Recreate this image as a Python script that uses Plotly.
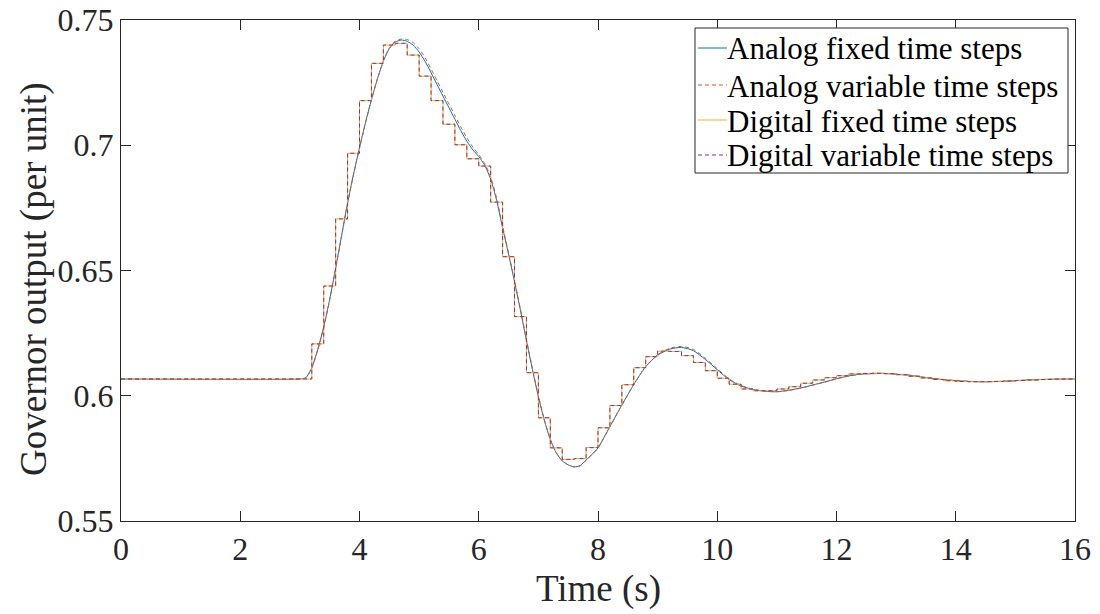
import plotly.graph_objects as go

# ---- Data ----
analog_t = [0, 3.0, 3.1, 3.2, 3.3, 3.4, 3.5, 3.6, 3.7, 3.8, 3.9, 4.0, 4.1, 4.2, 4.3, 4.4,
            4.5, 4.6, 4.7, 4.8, 4.9, 5.0, 5.1, 5.2, 5.3, 5.4, 5.5, 5.6, 5.7, 5.8, 5.9,
            6.0, 6.1, 6.2, 6.3, 6.4, 6.5, 6.6, 6.7, 6.8, 6.9, 7.0, 7.1, 7.2, 7.3, 7.4,
            7.5, 7.6, 7.7, 7.8, 7.9, 8.0, 8.2, 8.4, 8.6, 8.8, 9.0, 9.2, 9.4, 9.6, 9.8,
            10.0, 10.2, 10.4, 10.6, 10.8, 11.0, 11.2, 11.4, 11.6, 11.8, 12.0, 12.2, 12.4,
            12.8, 13.2, 13.6, 14.0, 14.4, 14.8, 15.2, 15.6, 16.0]

analog_fixed = [0.6067, 0.6067, 0.6072, 0.6112, 0.6185, 0.6275, 0.6385, 0.6510, 0.6640,
                0.6770, 0.6885, 0.6990, 0.7090, 0.7182, 0.7265, 0.7336, 0.7386, 0.7412,
                0.7420, 0.7415, 0.7400, 0.7372, 0.7335, 0.7290, 0.7243, 0.7196, 0.7150,
                0.7104, 0.7058, 0.7016, 0.6982, 0.6955, 0.6920, 0.6865, 0.6780, 0.6670,
                0.6565, 0.6455, 0.6340, 0.6220, 0.6105, 0.5996, 0.5902, 0.5825, 0.5772,
                0.5740, 0.5724, 0.5716, 0.5721, 0.5743, 0.5766, 0.5792, 0.5877, 0.5963,
                0.6045, 0.6116, 0.6162, 0.6186, 0.6193, 0.6180, 0.6145, 0.6104, 0.6064,
                0.6039, 0.6025, 0.6018, 0.6016, 0.6022, 0.6031, 0.6043, 0.6055, 0.6068,
                0.6079, 0.6086, 0.6089, 0.6082, 0.6069, 0.6060, 0.6056, 0.6058, 0.6063,
                0.6066, 0.6067]

analog_variable = [0.6067, 0.6067, 0.6071, 0.6110, 0.6182, 0.6272, 0.6382, 0.6507, 0.6637,
                   0.6768, 0.6883, 0.6988, 0.7088, 0.7180, 0.7264, 0.7336, 0.7388, 0.7416,
                   0.7424, 0.7422, 0.7410, 0.7385, 0.7349, 0.7305, 0.7258, 0.7211, 0.7165,
                   0.7119, 0.7073, 0.7030, 0.6993, 0.6963, 0.6928, 0.6873, 0.6788, 0.6678,
                   0.6570, 0.6460, 0.6345, 0.6225, 0.6110, 0.6000, 0.5905, 0.5827, 0.5773,
                   0.5740, 0.5724, 0.5716, 0.5720, 0.5742, 0.5765, 0.5791, 0.5876, 0.5962,
                   0.6045, 0.6117, 0.6164, 0.6189, 0.6197, 0.6185, 0.6150, 0.6108, 0.6067,
                   0.6041, 0.6026, 0.6018, 0.6016, 0.6021, 0.6030, 0.6042, 0.6054, 0.6067,
                   0.6078, 0.6086, 0.6089, 0.6083, 0.6070, 0.6061, 0.6056, 0.6057, 0.6062,
                   0.6066, 0.6067]

digital_t = [0, 3.2, 3.4, 3.6, 3.8, 4.0, 4.2, 4.4, 4.6, 4.8, 5.0, 5.2, 5.4, 5.6, 5.8,
             6.0, 6.2, 6.4, 6.6, 6.8, 7.0, 7.2, 7.4, 7.6, 7.8, 8.0, 8.2, 8.4, 8.6, 8.8,
             9.0, 9.2, 9.4, 9.6, 9.8, 10.0, 10.2, 10.4, 10.6, 10.8, 11.0, 11.2, 11.4,
             11.6, 11.8, 12.0, 12.2, 12.4, 12.6, 12.8, 13.0, 13.2, 13.4, 13.6, 13.8,
             14.0, 14.2, 14.4, 14.6, 14.8, 15.0, 15.2, 15.4, 15.6, 15.8, 16.0]

digital_fixed = [0.6067, 0.6207, 0.6438, 0.6706, 0.6968, 0.7178, 0.7327, 0.7400, 0.7407,
                 0.7360, 0.7276, 0.7178, 0.7084, 0.7002, 0.6946, 0.6917, 0.6773, 0.6555,
                 0.6316, 0.6092, 0.5912, 0.5792, 0.5746, 0.5749, 0.5793, 0.5872, 0.5961,
                 0.6044, 0.6112, 0.6156, 0.6178, 0.6177, 0.6160, 0.6133, 0.6100, 0.6070,
                 0.6046, 0.6027, 0.6020, 0.6020, 0.6027, 0.6036, 0.6050, 0.6063, 0.6072,
                 0.6080, 0.6087, 0.6089, 0.6090, 0.6088, 0.6084, 0.6078, 0.6071, 0.6065,
                 0.6060, 0.6057, 0.6056, 0.6056, 0.6057, 0.6059, 0.6061, 0.6063, 0.6065,
                 0.6066, 0.6067, 0.6067]

digital_variable = [0.6067, 0.6207, 0.6438, 0.6706, 0.6968, 0.7178, 0.7327, 0.7400, 0.7407,
                    0.7360, 0.7276, 0.7178, 0.7084, 0.7002, 0.6946, 0.6917, 0.6773, 0.6555,
                    0.6316, 0.6092, 0.5912, 0.5792, 0.5746, 0.5749, 0.5793, 0.5872, 0.5961,
                    0.6044, 0.6112, 0.6156, 0.6178, 0.6177, 0.6160, 0.6133, 0.6100, 0.6070,
                    0.6046, 0.6027, 0.6020, 0.6020, 0.6027, 0.6036, 0.6050, 0.6063, 0.6072,
                    0.6080, 0.6087, 0.6089, 0.6090, 0.6088, 0.6084, 0.6078, 0.6071, 0.6065,
                    0.6060, 0.6057, 0.6056, 0.6056, 0.6057, 0.6059, 0.6061, 0.6063, 0.6065,
                    0.6066, 0.6067, 0.6067]

series_names = ["Analog fixed time steps", "Analog variable time steps",
                "Digital fixed time steps", "Digital variable time steps"]
series_colors = ["#0072BD", "#D95319", "#EDB120", "#7E2F8E"]
series_dash = ["solid", "4px,3px", "solid", "4px,3px"]

x_ticks = [0, 2, 4, 6, 8, 10, 12, 14, 16]
x_tick_text = ["0", "2", "4", "6", "8", "10", "12", "14", "16"]
y_ticks = [0.55, 0.6, 0.65, 0.7, 0.75]
y_tick_text = ["0.55", "0.6", "0.65", "0.7", "0.75"]
x_title = "Time (s)"
y_title = "Governor output (per unit)"

# ---- Figure ----
FONT = "Liberation Serif, Times New Roman, serif"
AX = "#262626"
W, H = 1100, 614
ML, MR, MT, MB = 121, 25, 20, 93
PW, PH = W - ML - MR, H - MT - MB


def px_to_paper(px, py):
    return (px - ML) / PW, (H - MB - py) / PH


fig = go.Figure()
xs = [analog_t, analog_t, digital_t, digital_t]
ys = [analog_fixed, analog_variable, digital_fixed, digital_variable]
shapes_line = ["spline", "spline", "hv", "hv"]
for i in range(4):
    line = dict(color=series_colors[i], width=1, shape=shapes_line[i], dash=series_dash[i])
    if shapes_line[i] == "spline":
        line["smoothing"] = 0.6
    fig.add_trace(go.Scatter(x=xs[i], y=ys[i], mode="lines", name=series_names[i],
                             line=line, showlegend=False))

axis_common = dict(showline=True, linecolor=AX, linewidth=1, mirror="ticks",
                   ticks="inside", ticklen=10, tickcolor=AX, tickwidth=1,
                   showgrid=False, zeroline=False, automargin=False,
                   tickfont=dict(family=FONT, size=32, color=AX))

fig.update_xaxes(range=[0, 16], tickvals=x_ticks, ticktext=x_tick_text, **axis_common)
fig.update_yaxes(range=[0.55, 0.75], tickvals=y_ticks, ticktext=y_tick_text, **axis_common)

shapes = []
annotations = []

# Axis titles
xt_x, xt_y = px_to_paper(598, 589)
annotations.append(dict(xref="paper", yref="paper", x=xt_x, y=xt_y, xanchor="center",
                        yanchor="middle", text=x_title, showarrow=False,
                        font=dict(family=FONT, size=37, color=AX)))
yt_x, yt_y = px_to_paper(34, 279)
annotations.append(dict(xref="paper", yref="paper", x=yt_x, y=yt_y, xanchor="center",
                        yanchor="middle", text=y_title, showarrow=False, textangle=-90,
                        font=dict(family=FONT, size=37, color=AX)))

# ---- Legend drawn as a box, line samples and text (compact MATLAB-style spacing) ----
bx0, by0 = px_to_paper(695, 28)
bx1, by1 = px_to_paper(1068, 173)
shapes.append(dict(type="rect", xref="paper", yref="paper", x0=bx0, x1=bx1, y0=by1, y1=by0,
                   line=dict(color=AX, width=1), fillcolor="white", layer="above"))
row_y = [48, 85, 120, 155]
for i in range(4):
    lx0, ly = px_to_paper(698, row_y[i])
    lx1, _ = px_to_paper(727, row_y[i])
    shapes.append(dict(type="line", xref="paper", yref="paper", x0=lx0, x1=lx1, y0=ly, y1=ly,
                       line=dict(color=series_colors[i], width=1, dash=series_dash[i]),
                       layer="above"))
    tx, ty = px_to_paper(725, row_y[i] + 1)
    annotations.append(dict(xref="paper", yref="paper", x=tx, y=ty, xanchor="left", yanchor="middle",
                            text=series_names[i], showarrow=False,
                            font=dict(family=FONT, size=31, color="black")))

fig.update_layout(
    width=W, height=H,
    margin=dict(l=ML, r=MR, t=MT, b=MB, autoexpand=False),
    plot_bgcolor="white", paper_bgcolor="white",
    font=dict(family=FONT, color=AX),
    showlegend=False,
    shapes=shapes,
    annotations=annotations,
)

fig.write_html("out.html")
